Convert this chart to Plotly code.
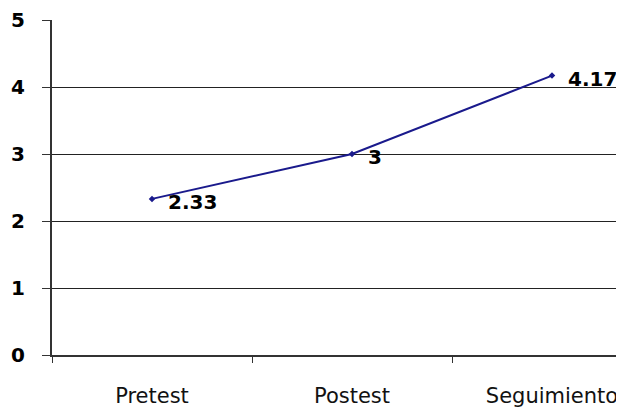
import plotly.graph_objects as go

categories = ["Pretest", "Postest", "Seguimiento"]
values = [2.33, 3, 4.17]
value_labels = ["2.33", "3", "4.17"]
y_ticks = [0, 1, 2, 3, 4, 5]

# The page body has an 8px margin, so the figure is sized to fit the window.
fig = go.Figure()
fig.add_trace(go.Scatter(
    x=categories, y=values, mode="lines+markers",
    line=dict(color="#1a1a8c", width=2),
    marker=dict(symbol="diamond", size=5, color="#1a1a8c"),
    showlegend=False, hoverinfo="skip", cliponaxis=False,
))
for c, v, t in zip(categories, values, value_labels):
    fig.add_annotation(x=c, y=v, text="<b>%s</b>" % t, showarrow=False,
                       xanchor="left", yanchor="middle", xshift=14, yshift=-3,
                       font=dict(family="DejaVu Sans", size=20, color="black"))

fig.update_layout(
    width=616, height=405,
    margin=dict(l=44, r=0, t=12, b=58),
    paper_bgcolor="white", plot_bgcolor="white",
    font=dict(family="DejaVu Sans", color="black"),
)
fig.update_xaxes(
    type="category", range=[-0.5, 2.36], automargin=False,
    tickson="boundaries", ticks="outside", ticklen=6, tickcolor="#333",
    ticklabelstandoff=21,
    showgrid=False, showline=True, linecolor="#333", linewidth=2,
    tickfont=dict(family="DejaVu Sans", size=21, color="#111"),
)
fig.update_yaxes(
    range=[0, 5], tickvals=y_ticks, automargin=False,
    ticktext=["<b>%d</b>" % t for t in y_ticks],
    ticks="outside", ticklen=8, tickcolor="#333",
    ticklabelstandoff=13,
    showgrid=True, gridcolor="#222", gridwidth=1,
    showline=True, linecolor="#333", linewidth=2,
    zeroline=False,
    tickfont=dict(family="DejaVu Sans", size=20, color="black"),
)
fig.write_html("out.html")
